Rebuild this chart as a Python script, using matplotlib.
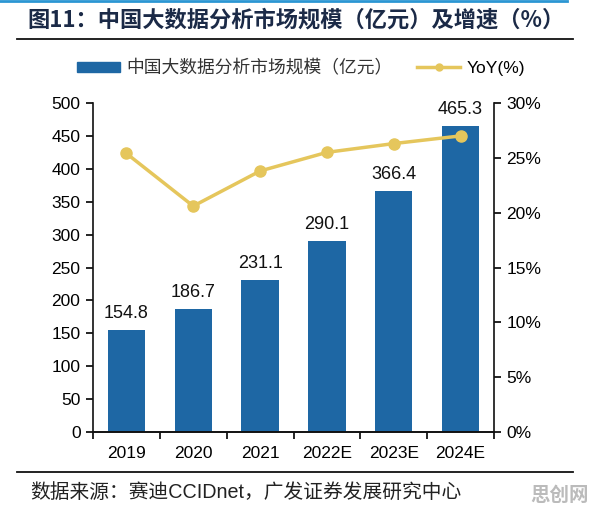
import matplotlib
matplotlib.use("Agg")
import matplotlib.pyplot as plt
from matplotlib.ticker import FuncFormatter, MultipleLocator
from matplotlib.lines import Line2D
from matplotlib.patches import Patch

years = ["2019", "2020", "2021", "2022E", "2023E", "2024E"]
market_size = [154.8, 186.7, 231.1, 290.1, 366.4, 465.3]
yoy = [25.4, 20.6, 23.8, 25.5, 26.3, 27.0]

title = "图11：中国大数据分析市场规模（亿元）及增速（%）"
bar_label = "中国大数据分析市场规模（亿元）"
line_label = "YoY(%)"
source = "数据来源：赛迪CCIDnet，广发证券发展研究中心"
watermark = "思创网"

FAM = ["Liberation Sans", "Noto Sans CJK SC", "DejaVu Sans"]
CJK = ["Noto Sans CJK SC", "DejaVu Sans"]
plt.rcParams["font.family"] = FAM

BAR_C = "#1E67A4"
LINE_C = "#E5C65C"

fig = plt.figure(figsize=(5.96, 5.14), dpi=100)
ax = fig.add_axes([93/596, 1-432/514, (494-93)/596, (432-103)/514])
ax2 = ax.twinx()

x = list(range(len(years)))
ax.bar(x, market_size, width=0.56, color=BAR_C, zorder=2)
for xi, v in zip(x, market_size):
    ax.text(xi, v + 12, f"{v:.1f}", ha="center", va="bottom", fontsize=13, color="#111111")

ax.set_xlim(-0.5, len(years) - 0.5)
ax.set_ylim(0, 500)
ax.yaxis.set_major_locator(MultipleLocator(50))
ax.set_xticks([i - 0.5 for i in range(len(years) + 1)])
ax.set_xticklabels([])
ax.set_xticks(x, minor=True)
ax.set_xticklabels(years, minor=True)
ax.tick_params(axis="x", which="minor", length=0, pad=10, labelsize=12.5)
ax.tick_params(axis="x", which="major", direction="out", length=5, width=1.2)
ax.tick_params(axis="y", direction="out", length=5, width=1.2, labelsize=12.5, pad=4)

ax2.plot(x, yoy, color=LINE_C, lw=2.5, marker="o", markersize=8, zorder=3)
ax2.set_ylim(0, 30)
ax2.yaxis.set_major_locator(MultipleLocator(5))
ax2.yaxis.set_major_formatter(FuncFormatter(lambda v, p: f"{v:.0f}%"))
ax2.tick_params(axis="y", direction="out", length=5, width=1.2, labelsize=12.5, pad=4)

for a in (ax, ax2):
    a.spines["top"].set_visible(False)
    for s in ("left", "right", "bottom"):
        a.spines[s].set_linewidth(1.2)
        a.spines[s].set_color("#111111")
ax.spines["right"].set_visible(False)
ax2.spines["left"].set_visible(False)

# legend
handles = [Patch(color=BAR_C, label=bar_label),
           Line2D([0], [0], color=LINE_C, lw=2.5, marker="o", markersize=5, label=line_label)]
leg = fig.legend(handles=handles, loc="center", bbox_to_anchor=(301/596, 1-68/514), ncol=2,
                 frameon=False, handlelength=2.4, handleheight=0.5,
                 columnspacing=1.4, handletextpad=0.35,
                 prop={"family": CJK, "size": 12.8})
leg.get_texts()[1].set_family(FAM)
leg.get_texts()[1].set_fontsize(12.5)
leg.get_texts()[0].set_color("#333333")

# title and decorations
fig.text(296/596, 1-20/514, title, ha="center", va="center", fontsize=16, fontweight="bold",
         color="#1B2A47", family=CJK)
fig.add_artist(Line2D([0, 567/596], [1-1/514, 1-1/514], color="#2B96D3", lw=2))
fig.add_artist(Line2D([17/596, 573/596], [1-39/514, 1-39/514], color="#111111", lw=1.3))
fig.add_artist(Line2D([17/596, 573/596], [1-472/514, 1-472/514], color="#111111", lw=1.3))
fig.text(30/596, 1-492/514, source, ha="left", va="center", fontsize=14.2, color="#222222",
         family=FAM)
fig.text(560/596, 1-495/514, watermark, ha="center", va="center", fontsize=14, fontweight="bold",
         color="#BBBBBB", family=CJK)

fig.savefig("out.png", dpi=100)
